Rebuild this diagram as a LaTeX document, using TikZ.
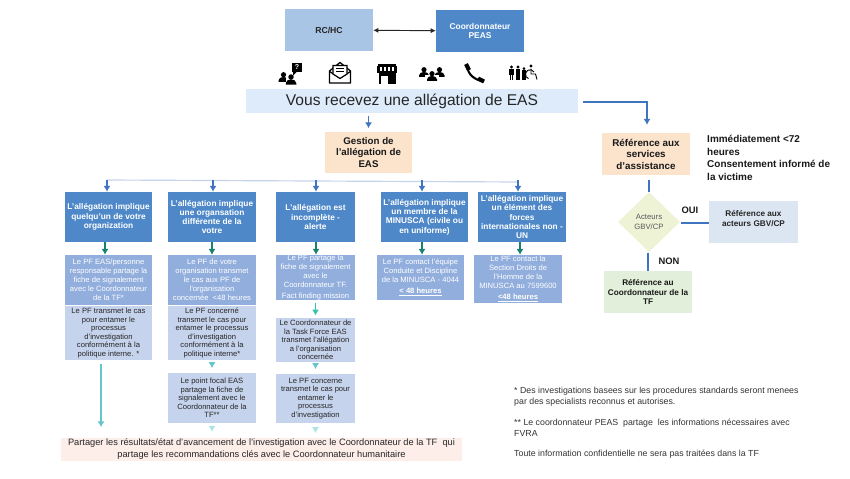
\documentclass[tikz,border=0pt]{standalone}
\usepackage{fontspec}
\setmainfont{Liberation Sans}
\usetikzlibrary{shapes.geometric,arrows.meta}
\definecolor{headblue}{HTML}{4E88C8}
\definecolor{midblue}{HTML}{92AEDD}
\definecolor{paleblue}{HTML}{C6D3EC}
\definecolor{skyblue}{HTML}{A9C5E5}
\definecolor{barblue}{HTML}{DDEBFA}
\definecolor{peach}{HTML}{FBE3CC}
\definecolor{linkblue}{HTML}{3E75BE}
\definecolor{deepteal}{HTML}{17806F}
\definecolor{brightteal}{HTML}{2CC5A8}
\definecolor{softteal}{HTML}{62C6CC}
\definecolor{faintteal}{HTML}{ADE5E6}
\definecolor{blush}{HTML}{FDEEEA}
\definecolor{lime}{HTML}{EEF3D6}
\definecolor{mint}{HTML}{E2EFDA}
\definecolor{mist}{HTML}{DCE6F2}
\tikzset{
	box/.style={inner sep=0pt,align=center},
	headbox/.style={box,fill=headblue,text=white,font=\fontsize{7.1}{7.9}\selectfont\bfseries},
	midbox/.style={box,fill=midblue,text=white,font=\fontsize{6.5}{7.7}\selectfont},
	palebox/.style={box,fill=paleblue,text=black!85,font=\fontsize{6.5}{7.3}\selectfont},
	peachbox/.style={box,fill=peach,text=black!90,font=\fontsize{8.3}{9.7}\selectfont\bfseries},
	note/.style={anchor=west,align=left,inner sep=0pt,text=black!80,font=\fontsize{7.5}{9.3}\selectfont},
	link/.style={linkblue,line width=1.3pt},
	drop/.style={-{Latex[length=5pt,width=6pt]},line width=1.4pt},
	person/.pic={
		\fill (0,-3.8) circle (2.6);
		\fill (-5,3.4) -- (-5,2) arc[start angle=180,end angle=360,x radius=5,y radius=3.6] -- (5,3.4) -- cycle;
	},
	walker/.pic={
		\fill (0,-5.8) circle (1.7);
		\fill (-2.2,-3.6) rectangle (2.2,2);
		\fill (-1.8,2) rectangle (-.2,7.4);
		\fill (.2,2) rectangle (1.8,7.4);
	},
}
\begin{document}
\begin{tikzpicture}[x=.03cm,y=-.03cm]
	\useasboundingbox (0,0) rectangle (850,478);

	\node[box,fill=skyblue,minimum width=2.64cm,minimum height=1.26cm,text=black!85,font=\fontsize{7.4}{8.4}\selectfont\bfseries] (rchc) at (329,30) {RC/HC};
	\node[box,fill=headblue,minimum width=2.64cm,minimum height=1.26cm,text=white,font=\fontsize{7.2}{8.4}\selectfont\bfseries] (coord) at (480,31) {Coordonnateur\\PEAS};
	\draw[{Latex[length=4.4pt,width=4.4pt]}-{Latex[length=4.4pt,width=4.4pt]},line width=.8pt,black!85] (rchc) -- (coord);

	\fill[black] (292,63) rectangle (302,72);
	\fill[black] (293,72) -- (293,75.5) -- (296.5,72) -- cycle;
	\node[inner sep=0pt,text=white,font=\fontsize{6}{6}\selectfont\bfseries] (ask) at (297,67.5) {?};
	\path (283.5,78.5) pic[scale=1]{person};
	\fill[white] (286,77) rectangle (297,87);
	\path (291,81) pic[scale=1.05]{person};

	\draw[black,line width=1.1pt,line join=round] (329.5,71) -- (340,62.5) -- (350.5,71) -- (350.5,83) -- (329.5,83) -- cycle;
	\draw[black,line width=1.1pt] (329.5,71.5) -- (340,78) -- (350.5,71.5);
	\draw[black,line width=1pt,fill=white] (333,74) -- (333,65.5) -- (347,65.5) -- (347,74) -- (340,78.5) -- cycle;
	\foreach \q in {68.5,71.5} {
		\draw[black,line width=.8pt] (336,\q) -- (344,\q);
	}

	\fill[black] (378,64) rectangle (396,66);
	\fill[black] (377,66) rectangle (397,73);
	\foreach \q in {381,385,389,393} {
		\fill[white] (\q-.6,66.5) rectangle (\q+.6,71);
	}
	\fill[black] (378.5,73) rectangle (381,84);
	\fill[black] (393,73) rectangle (395.5,84);
	\fill[black] (381,73) rectangle (393,75.5);
	\fill[black] (388,75) rectangle (393,84);

	\path (424,73.5) pic[scale=1]{person} (439.5,73.5) pic[scale=1]{person};
	\fill[white] (425,75) rectangle (439,82);
	\path (432,77.5) pic[scale=1]{person};

	\draw[black,line width=1.8pt] (467,66) .. controls (468,75) and (475,80) .. (483,81);
	\draw[black,line width=3.6pt] (466,64) -- (469,70);
	\draw[black,line width=3.6pt] (478,78.5) -- (484,81.5);

	\path (511.5,72.8) pic[scale=1]{walker} (518,72.8) pic[scale=1]{walker};
	\path (524,73.5) pic[scale=.85]{walker};
	\fill[black] (531,66) circle (1.6);
	\draw[black,line width=.8pt] (531,68.5) -- (531,74) -- (535.5,74) -- (537,79.5);
	\draw[black,line width=.8pt] (534,72) arc[start angle=-30,end angle=-250,radius=4.6];

	\node[box,fill=barblue,minimum width=9.96cm,minimum height=.72cm,font=\fontsize{13.3}{15}\selectfont,text=black!85] (recv) at (412,101) {Vous recevez une allégation de EAS};
	\node[peachbox,minimum width=2.61cm,minimum height=1.23cm] (gest) at (368.5,152.5) {Gestion de\\l’allégation de\\EAS};
	\draw[link,drop,shorten <=2pt,shorten >=3pt] (gest.north |- recv.south) -- (gest.north);

	\coordinate (railL) at (107,180);
	\coordinate (railR) at (519,182);
	\draw[paleblue,line width=1pt] (railL) -- (railR);

	\foreach \nm/\cx/\bw/\txt in {
		1/108.5/2.61/{L’allégation implique\\quelqu’un de votre\\organization},
		2/212/2.64/{L’allégation implique\\une organsation\\différente de la\\votre},
		3/315.5/2.37/{L’allégation est\\incomplète -\\alerte},
		4/424.5/2.61/{L’allégation implique\\un membre de la\\MINUSCA (civile ou\\en uniforme)},
		5/522/2.64/{L’allégation implique\\un élément des\\forces\\internationales non -\\UN}} {
		\node[headbox,minimum width=\bw cm,minimum height=1.5cm] (head\nm) at (\cx,217) {\txt};
	}
	\foreach \nm/\sx in {1/107,2/213,3/316,4/422,5/518} {
		\coordinate (tap\nm) at (\sx,180);
		\draw[linkblue,drop] (tap\nm) -- (tap\nm |- head\nm.north);
	}

	\node[midbox,minimum width=2.61cm,minimum height=1.5cm] (mid1) at (108.5,280) {Le PF EAS/personne\\responsable partage la\\fiche de signalement\\avec le Coordonnateur\\de la TF*};
	\node[midbox,minimum width=2.64cm,minimum height=1.485cm] (mid2) at (212,279.8) {Le PF de votre\\organisation transmet\\le cas aux PF de\\l’organisation\\concernée \ <48 heures};
	\node[midbox,minimum width=2.37cm,minimum height=1.35cm] (mid3) at (315.5,277.5) {Le PF partage la\\fiche de signalement\\avec le\\Coordonnateur TF.\\[1.5pt]Fact finding mission};
	\node[midbox,minimum width=2.61cm,minimum height=1.35cm] (mid4) at (420.5,277.5) {Le PF contact l’équipe\\Conduite et Discipline\\de la MINUSCA - 4044\\[1.5pt]\textbf{\underline{< 48 heures}}};
	\node[midbox,minimum width=2.64cm,minimum height=1.44cm] (mid5) at (518,279) {Le PF contact la\\Section Droits de\\l’Homme de la\\MINUSCA au 7599600\\[1.5pt]\textbf{\underline{<48 heures}}};
	\foreach \nm/\sx in {1/105,2/212,3/316,4/422,5/520} {
		\coordinate (dip\nm) at (\sx,242);
		\draw[deepteal,drop] (dip\nm) -- (dip\nm |- mid\nm.north);
	}

	\node[palebox,minimum width=2.61cm,minimum height=1.62cm] (pale1) at (108.5,333) {Le PF transmet le cas\\pour entamer le\\processus\\d’investigation\\conformément à la\\politique interne. *};
	\node[palebox,minimum width=2.64cm,minimum height=1.62cm] (pale2) at (212,333) {Le PF concerné\\transmet le cas pour\\entamer le processus\\d’investigation\\conformément à la\\politique interne*};
	\node[palebox,minimum width=2.37cm,minimum height=1.32cm] (pale3) at (315.5,340) {Le Coordonnateur de\\la Task Force EAS\\transmet l’allégation\\a l’organisation\\concernée};
	\node[palebox,minimum width=2.64cm,minimum height=1.5cm] (fin2) at (212,398) {Le point focal EAS\\partage la fiche de\\signalement avec le\\Coordonnateur de la\\TF**};
	\node[palebox,minimum width=2.37cm,minimum height=1.47cm] (fin3) at (315.5,398.5) {Le PF concerne\\transmet le cas pour\\entamer le\\processus\\d’investigation};
	\node[box,fill=blush,minimum width=12.03cm,minimum height=.69cm,text=black!85,font=\fontsize{7.9}{10.2}\selectfont] (share) at (261.5,449.5) {Partager les résultats/état d’avancement de l’investigation avec le Coordonnateur de la TF \ qui\\partage les recommandations clés avec le Coordonnateur humanitaire};

	\draw[brightteal,drop,shorten <=2pt,shorten >=2pt] (mid3) -- (pale3);
	\draw[softteal,drop,shorten <=2pt,shorten >=4pt] (pale3) -- (fin3);
	\draw[softteal,drop,shorten <=2pt,shorten >=4pt] (pale2) -- (fin2);
	\draw[faintteal,drop,shorten <=2pt,shorten >=5pt] (fin2) -- (fin2 |- share.north);
	\draw[faintteal,drop,shorten <=3pt,shorten >=4pt] (fin3) -- (fin3 |- share.north);
	\coordinate (tail1) at (101,360);
	\draw[softteal,drop,shorten <=3pt,shorten >=9pt] (tail1) -- (tail1 |- share.north);

	\node[peachbox,minimum width=2.64cm,minimum height=1.26cm,font=\fontsize{8.4}{9.8}\selectfont\bfseries] (refer) at (646,154) {Référence aux\\services\\d'assistance};
	\node[diamond,aspect=1,inner sep=0pt,align=center,fill=lime,minimum width=1.86cm,minimum height=1.8cm,text=black!65,font=\fontsize{6.6}{8.4}\selectfont] (actors) at (649,222) {Acteurs\\GBV/CP};
	\node[box,fill=mist,minimum width=2.67cm,minimum height=1.26cm,text=black!85,font=\fontsize{7}{8.5}\selectfont\bfseries] (refgbv) at (753.5,222) {Référence aux\\acteurs GBV/CP\\[-1.7pt]\mbox{}};
	\node[box,fill=mint,minimum width=2.64cm,minimum height=1.26cm,text=black!90,font=\fontsize{7}{8.2}\selectfont\bfseries] (reftf) at (648,292) {Référence au\\Coordonnateur de la\\TF};

	\coordinate (exit) at (578,102);
	\coordinate (turn) at (647,133);
	\draw[link,drop,shorten <=4pt,shorten >=7pt] (exit) -| (turn);
	\coordinate (upper) at (649,175);
	\draw[link,shorten <=4pt] (upper) -- (actors.north);
	\coordinate (rightin) at (709,223);
	\coordinate (rightout) at (681,223);
	\draw[link] (rightout) -- (rightin);
	\coordinate (lowerin) at (648,252.5);
	\coordinate (lowerout) at (648,271);
	\draw[link] (lowerin) -- (lowerout);

	\node[box,text=black!90,font=\fontsize{8}{9}\selectfont\bfseries] (oui) at (690,210) {OUI};
	\node[box,text=black!90,font=\fontsize{8}{9}\selectfont\bfseries] (non) at (669,261) {NON};
	\node[note,text=black!90,font=\fontsize{8.5}{10.8}\selectfont\bfseries] (delay) at (707,158) {Immédiatement <72\\heures\\Consentement informé de\\la victime};

	\node[note] (star) at (514,396.5) {* Des investigations basees sur les procedures standards seront menees\\par des specialists reconnus et autorises.};
	\node[note] (stars) at (514,427.5) {** Le coordonnateur PEAS \ partage \ les informations nécessaires avec\\FVRA};
	\node[note] (conf) at (514,454) {Toute information confidentielle ne sera pas traitées dans la TF};
\end{tikzpicture}
\end{document}
